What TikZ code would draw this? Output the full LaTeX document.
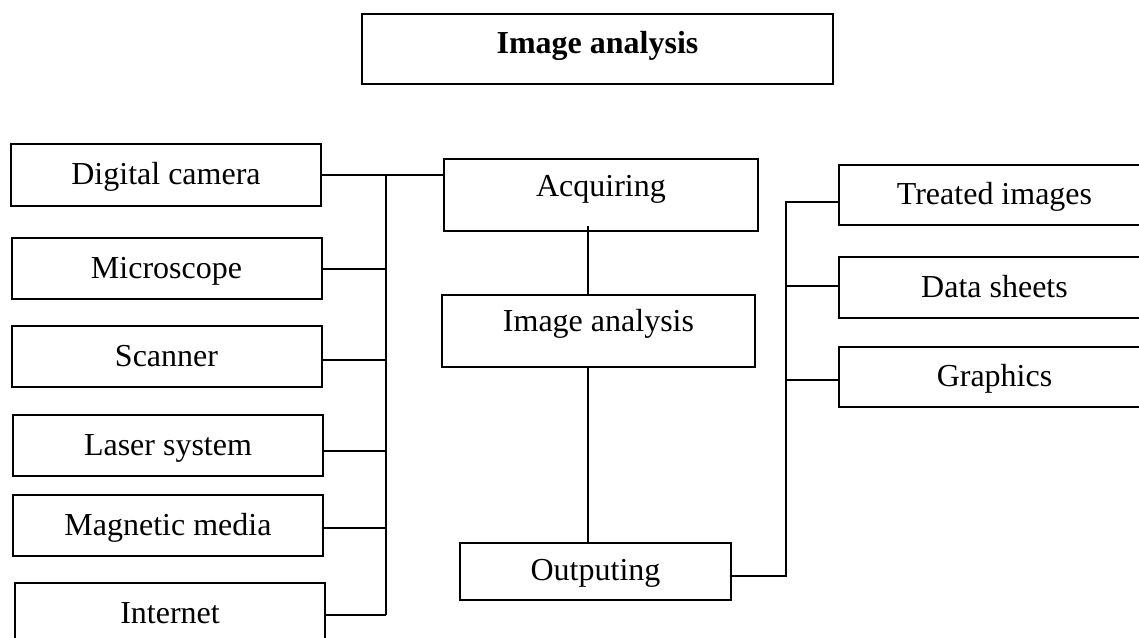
\documentclass[tikz,border=0pt]{standalone}
\usepackage{fontspec}
\setmainfont{Liberation Serif}
\usetikzlibrary{calc}

\begin{document}
\begin{tikzpicture}[x=0.5pt,y=-0.5pt,line width=1pt,font=\fontsize{16}{19}\selectfont,
    every node/.style={align=center,inner sep=0pt,text height=11pt,text depth=1.5pt},
    srcbox/.style={draw,minimum width=155pt,minimum height=30.5pt},
    outbox/.style={draw,minimum width=155.5pt,minimum height=30pt},
    stagebox/.style={draw,minimum width=157pt,minimum height=36pt,text depth=9.5pt}]
    \useasboundingbox (0,0) rectangle (1139,637);
    \clip (0,0) rectangle (1139,637);
    % title
    \node[draw,minimum width=235.5pt,minimum height=35pt,text depth=6pt,font=\fontsize{16}{19}\selectfont\bfseries] (title) at (597.5,49) {Image analysis};
    % sources
    \node[srcbox,minimum height=31pt] (dcam) at (166,175) {Digital camera};
    \node[srcbox] (micro) at (166.5,268.5) {Microscope};
    \node[srcbox] (scan) at (166.5,356.5) {Scanner};
    \node[srcbox] (laser) at (168,445.5) {Laser system};
    \node[srcbox] (magnet) at (168,525.5) {Magnetic media};
    \node[srcbox,minimum height=31pt] (inet) at (170,614) {Internet};
    % stages
    \node[stagebox] (acq) at (601,195) {Acquiring};
    \node[stagebox,minimum width=156.5pt,text depth=10.5pt] (mid) at (598.5,331) {Image analysis};
    \node[draw,minimum width=135.5pt,minimum height=28.5pt,text depth=2.5pt] (out) at (595.5,571.5) {Outputing};
    % results
    \node[outbox] (treated) at (994.5,195) {Treated images};
    \node[outbox,minimum height=30.5pt] (data) at (994.5,287.5) {Data sheets};
    \node[outbox] (graph) at (994.5,377) {Graphics};
    \coordinate (lbus) at (386,0);
    \coordinate (mbus) at (588,0);
    \coordinate (rbus) at (786,0);
    % left bus
    \draw (dcam.east) -- (dcam.east -| acq.west);
    \draw (dcam.east -| lbus) -- ([yshift=-0.5pt]inet.east -| lbus);
    \draw (micro.east) -- (micro.east -| lbus);
    \draw ([yshift=-1.5pt]scan.east) -- ([yshift=-1.5pt]scan.east -| lbus);
    \draw ([yshift=-2.5pt]laser.east) -- ([yshift=-2.5pt]laser.east -| lbus);
    \draw ([yshift=-1pt]magnet.east) -- ([yshift=-1pt]magnet.east -| lbus);
    \draw ([yshift=-0.5pt]inet.east) -- ([yshift=-0.5pt]inet.east -| lbus);
    % middle
    \draw ([yshift=3pt]acq.south -| mbus) -- (mid.north -| mbus);
    \draw (mid.south -| mbus) -- (out.north -| mbus);
    % right bus
    \draw ([yshift=-2pt]out.east) -- ([yshift=-2pt]out.east -| rbus) -- ([yshift=-3.5pt]treated.west -| rbus) -- ([yshift=-3.5pt]treated.west);
    \draw ([yshift=1pt]data.west -| rbus) -- ([yshift=1pt]data.west);
    \draw ([yshift=-1.5pt]graph.west -| rbus) -- ([yshift=-1.5pt]graph.west);
\end{tikzpicture}
\end{document}
